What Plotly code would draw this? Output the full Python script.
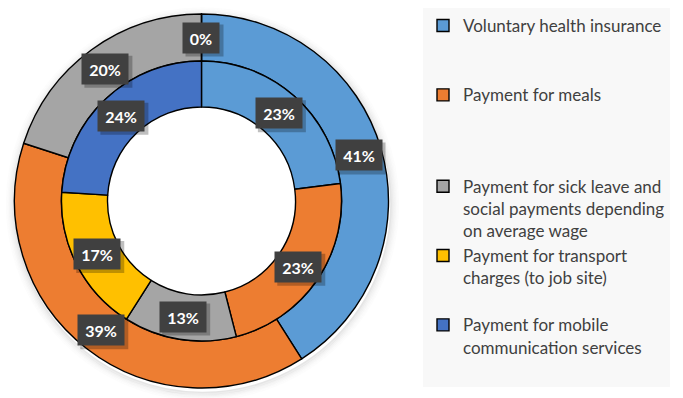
import math
import plotly.graph_objects as go

# ---------------- data ----------------
categories = [
    "Voluntary health insurance",
    "Payment for meals",
    "Payment for sick leave and social payments depending on average wage",
    "Payment for transport charges (to job site)",
    "Payment for mobile communication services",
]
legend_labels = [
    "Voluntary health insurance<br>\u00a0<br>\u00a0",
    "Payment for meals<br>\u00a0<br>\u00a0<br>\u00a0",
    "Payment for sick leave and<br>social payments depending<br>on average wage",
    "Payment for transport<br>charges (to job site)<br>\u00a0",
    "Payment for mobile<br>communication services<br>\u00a0",
]
outer_values = [41, 39, 20, 0]          # first four categories
inner_values = [23, 23, 13, 17, 24]     # all five categories
colors = ["#5B9BD5", "#ED7D31", "#A5A5A5", "#FFC000", "#4472C4"]

# ---------------- geometry (pixels) ----------------
W, H = 683, 398
CX, CY = 201.5, 201.0
R_OUT, R_MID, R_IN = 187.0, 140.0, 94.0


def domain(r):
    return dict(x=[(CX - r) / W, (CX + r) / W], y=[1 - (CY + r) / H, 1 - (CY - r) / H])


fig = go.Figure()
fig.add_trace(go.Pie(
    labels=legend_labels[:len(outer_values)], values=outer_values, hole=R_MID / R_OUT,
    domain=domain(R_OUT), sort=False, direction="clockwise", rotation=0,
    marker=dict(colors=colors[:len(outer_values)], line=dict(color="#000000", width=1.4)),
    textinfo="none", hoverinfo="label+percent", showlegend=True,
))
fig.add_trace(go.Pie(
    labels=legend_labels, values=inner_values, hole=R_IN / R_MID,
    domain=domain(R_MID), sort=False, direction="clockwise", rotation=0,
    marker=dict(colors=colors, line=dict(color="#000000", width=1.4)),
    textinfo="none", hoverinfo="label+percent", showlegend=True,
))

shapes = []
# soft shadow around the outer ring (stroked rings only)
for i, a in enumerate([0.10, 0.07, 0.05, 0.035, 0.02, 0.012]):
    r = R_OUT + 1.5 + i * 1.5
    shapes.append(dict(
        type="circle", xref="paper", yref="paper", layer="below",
        x0=(CX + 1 - r) / W, x1=(CX + 1 + r) / W,
        y0=1 - (CY + 3 + r) / H, y1=1 - (CY + 3 - r) / H,
        fillcolor="rgba(0,0,0,0)", line=dict(width=1.6, color="rgba(0,0,0,%s)" % a),
    ))

# data labels placed at slice centres, derived from the values
annotations = []
PAD = 5


def add_labels(values, r0, r1):
    total = sum(values)
    cum = 0.0
    rmid = (r0 + r1) / 2
    for v in values:
        mid = (cum + v / 2) / total * 2 * math.pi
        cum += v
        px = CX + rmid * math.sin(mid)
        py = CY - rmid * math.cos(mid)
        txt = "%d%%" % v
        bw = 16 + 10 * (len(txt) - 1)
        bh = 20
        # drop shadow of the label box
        sw, sh = bw / 2 + PAD + 1, bh / 2 + PAD + 1
        shapes.append(dict(
            type="rect", xref="paper", yref="paper", layer="above",
            x0=(px + 3 - sw) / W, x1=(px + 3 + sw) / W,
            y0=1 - (py + 3 + sh) / H, y1=1 - (py + 3 - sh) / H,
            fillcolor="rgba(0,0,0,0.25)", line=dict(width=0),
        ))
        annotations.append(dict(
            x=px / W, y=1 - py / H, xref="paper", yref="paper",
            xanchor="center", yanchor="middle", width=bw, height=bh,
            text="<b>%s</b>" % txt, showarrow=False, borderpad=PAD,
            font=dict(family="Lato", size=16, color="#FFFFFF"),
            bgcolor="#404040",
        ))


add_labels(outer_values, R_MID, R_OUT)
add_labels(inner_values, R_IN, R_MID)

fig.update_layout(
    width=W, height=H,
    margin=dict(l=0, r=0, t=0, b=0),
    paper_bgcolor="#FFFFFF",
    annotations=annotations,
    shapes=shapes,
    legend=dict(
        x=423 / W, y=1 - 8 / H, xanchor="left", yanchor="top",
        bgcolor="#F8F8F8", valign="top",
        font=dict(family="Lato", size=17, color="#404040"),
        traceorder="normal",
    ),
)

fig.write_html("out.html", config={"displayModeBar": False},
               post_script="document.body.style.margin='0';")
